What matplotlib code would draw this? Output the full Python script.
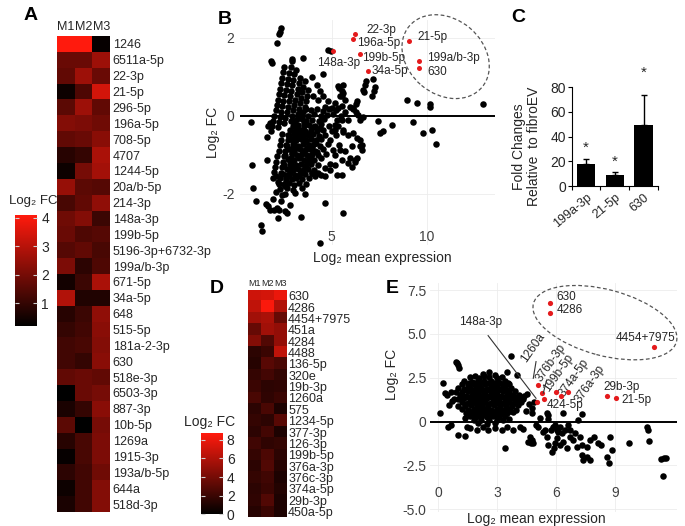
import numpy as np
import matplotlib
matplotlib.use('Agg')
import matplotlib.pyplot as plt
from matplotlib.colors import LinearSegmentedColormap, Normalize
from matplotlib.patches import Ellipse
import matplotlib.transforms as mtransforms
import matplotlib.cm as cm

plt.rcParams['font.family'] = ['Liberation Sans', 'DejaVu Sans']
plt.rcParams['axes.unicode_minus'] = False

# ---------------- data ----------------
a_cols = ['M1', 'M2', 'M3']
a_rows = ['1246', '6511a-5p', '22-3p', '21-5p', '296-5p', '196a-5p', '708-5p', '4707',
          '1244-5p', '20a/b-5p', '214-3p', '148a-3p', '199b-5p', '5196-3p+6732-3p',
          '199a/b-3p', '671-5p', '34a-5p', '648', '515-5p', '181a-2-3p', '630', '518e-3p',
          '6503-3p', '887-3p', '10b-5p', '1269a', '1915-3p', '193a/b-5p', '644a', '518d-3p']
a_vals = [[4.1, 4.1, 0.3], [1.8, 1.8, 2.6], [1.7, 2.6, 1.8], [0.4, 1.4, 3.4], [1.6, 2.6, 1.7],
          [2.2, 2.1, 1.9], [1.7, 1.8, 2.3], [0.8, 1.0, 2.8], [0.4, 2.0, 2.7], [2.5, 1.6, 1.5],
          [1.3, 1.7, 2.4], [1.9, 2.2, 1.1], [1.8, 1.4, 1.5], [1.5, 1.7, 1.3], [2.1, 0.9, 1.4],
          [0.5, 1.1, 2.8], [2.9, 0.7, 0.7], [0.8, 1.1, 2.4], [1.0, 1.2, 2.3], [1.2, 1.3, 2.2],
          [1.2, 1.0, 2.3], [1.7, 1.8, 1.7], [0.2, 1.8, 2.0], [0.6, 1.0, 2.3], [1.6, 0.2, 2.0],
          [0.8, 1.3, 2.1], [0.3, 1.3, 2.1], [0.9, 1.2, 1.9], [0.4, 1.2, 2.2], [0.6, 1.2, 2.2]]

d_rows = ['630', '4286', '4454+7975', '451a', '4284', '4488', '136-5p', '320e', '19b-3p',
          '1260a', '575', '1234-5p', '377-3p', '126-3p', '199b-5p', '376a-3p', '376c-3p',
          '374a-5p', '29b-3p', '450a-5p']
d_vals = [[7.0, 7.2, 8.0], [6.5, 8.5, 6.0], [5.5, 5.8, 3.5], [3.5, 5.5, 5.0], [4.5, 2.8, 5.0],
          [1.5, 2.0, 6.5], [1.3, 3.0, 2.5], [1.8, 2.3, 1.7], [2.0, 1.5, 1.6], [2.5, 1.6, 2.0],
          [1.5, 2.5, 1.0], [1.8, 1.5, 3.0], [1.5, 2.3, 1.0], [2.2, 1.6, 1.8], [1.8, 2.6, 1.5],
          [1.5, 2.8, 1.3], [1.8, 2.2, 1.0], [1.5, 2.0, 1.2], [1.6, 2.8, 1.0], [1.3, 2.0, 1.0]]

c_cats = ['199a-3p', '21-5p', '630']
c_vals = [17.8, 8.9, 49.2]
c_err = [4.2, 2.4, 24.6]
c_star = [31.0, 19.5, 92.0]

# Panel B: highlighted points
b_red_x = [6.23, 6.14, 5.09, 6.49, 6.93, 9.05, 9.61, 9.61]
b_red_y = [2.09, 1.97, 1.66, 1.57, 1.15, 1.92, 1.40, 1.23]
b_lab = ['22-3p', '196a-5p', '148a-3p', '199b-5p', '34a-5p', '21-5p', '199a/b-3p', '630']
b_lab_x = [6.81, 6.33, 4.23, 6.59, 7.12, 9.54, 10.02, 10.02]
b_lab_y = [2.20, 1.86, 1.35, 1.48, 1.15, 2.02, 1.48, 1.12]

b_streaks = [
    (1.80, -0.40), (1.86, -0.27), (1.92, -0.14), (1.98, 0.00), (2.04, 0.13), (2.10, 0.27), (2.16, 0.41),
    (2.21, 0.55), (2.27, 0.69), (2.33, 0.83), (2.39, 0.97), (2.45, 1.11), (2.51, 1.25),
    (2.15, -0.30), (2.21, -0.17), (2.27, -0.03), (2.33, 0.10), (2.39, 0.24), (2.45, 0.38), (2.51, 0.52),
    (2.57, 0.66), (2.63, 0.80), (2.69, 0.94), (2.76, 1.08), (2.83, 1.24), (2.90, 1.40),
    (2.50, -0.20), (2.56, -0.06), (2.62, 0.08), (2.68, 0.22), (2.74, 0.36), (2.80, 0.50), (2.86, 0.64),
    (2.92, 0.78), (2.98, 0.92), (3.04, 1.06), (3.10, 1.18),
    (2.85, -0.15), (2.91, -0.01), (2.97, 0.13), (3.03, 0.27), (3.09, 0.41), (3.15, 0.55), (3.21, 0.69),
    (3.27, 0.83), (3.33, 0.97),
    (3.15, -0.10), (3.21, 0.04), (3.27, 0.18), (3.33, 0.32), (3.39, 0.46), (3.45, 0.60), (3.51, 0.74),
    (3.57, 0.88),
    (3.45, -0.05), (3.51, 0.09), (3.57, 0.23), (3.63, 0.37), (3.69, 0.51), (3.75, 0.65),
    (1.90, -1.60), (1.96, -1.46), (2.02, -1.32), (2.08, -1.18), (2.14, -1.04), (2.20, -0.90),
    (2.26, -0.76), (2.32, -0.62), (2.38, -0.48),
    (2.20, -1.75), (2.26, -1.61), (2.32, -1.47), (2.38, -1.33), (2.44, -1.19), (2.50, -1.05),
    (2.56, -0.91), (2.62, -0.77), (2.68, -0.63), (2.74, -0.49),
    (2.55, -1.80), (2.61, -1.66), (2.67, -1.52), (2.73, -1.38), (2.79, -1.24), (2.85, -1.10),
    (2.91, -0.96), (2.97, -0.82), (3.03, -0.68), (3.09, -0.54), (3.15, -0.40),
]
b_core = [
    (3.62, 0.17), (3.91, 0.13), (4.22, 0.18), (4.55, 0.12), (4.88, 0.16), (5.21, 0.14),
    (3.31, 0.02), (3.74, -0.01), (4.06, 0.03), (4.41, -0.02), (4.76, 0.01), (5.07, 0.04), (5.48, -0.01),
    (3.02, -0.13), (3.44, -0.10), (3.66, -0.14), (3.97, -0.11), (4.31, -0.13), (4.62, -0.09), (5.29, -0.12),
    (2.94, -0.26), (3.21, -0.23), (3.52, -0.27), (3.79, -0.24), (4.12, -0.26), (4.46, -0.22), (4.84, -0.27),
    (5.16, -0.24),
    (2.81, -0.37), (3.06, -0.40), (3.36, -0.36), (3.61, -0.39), (3.89, -0.37), (4.21, -0.40), (4.52, -0.36),
    (5.02, -0.39), (5.58, -0.37),
    (2.69, -0.51), (3.01, -0.48), (3.26, -0.52), (3.49, -0.49), (3.76, -0.51), (4.02, -0.48), (4.31, -0.52),
    (4.66, -0.49), (5.24, -0.51),
    (2.86, -0.61), (3.11, -0.64), (3.39, -0.60), (3.66, -0.63), (3.91, -0.61), (4.16, -0.64), (4.46, -0.60),
    (4.91, -0.63),
    (2.61, -0.76), (2.96, -0.73), (3.21, -0.77), (3.49, -0.74), (3.81, -0.76), (4.06, -0.73), (4.36, -0.77),
    (4.79, -0.74), (5.41, -0.76),
    (2.76, -0.87), (3.04, -0.90), (3.31, -0.86), (3.59, -0.89), (3.86, -0.87), (4.11, -0.90), (4.56, -0.86),
    (5.09, -0.89),
    (2.56, -1.01), (2.89, -0.98), (3.16, -1.02), (3.44, -0.99), (3.71, -1.01), (3.96, -0.98), (4.29, -1.02),
    (4.71, -0.99),
    (2.71, -1.11), (3.01, -1.14), (3.26, -1.10), (3.54, -1.13), (3.81, -1.11), (4.06, -1.14), (4.44, -1.10),
    (2.51, -1.26), (2.86, -1.23), (3.11, -1.27), (3.39, -1.24), (3.66, -1.26), (3.91, -1.23), (4.26, -1.27),
    (4.89, -1.24),
    (2.66, -1.37), (2.94, -1.40), (3.21, -1.36), (3.51, -1.39), (3.76, -1.37), (4.09, -1.40),
    (2.46, -1.51), (2.81, -1.48), (3.06, -1.52), (3.31, -1.49), (3.61, -1.51), (3.94, -1.48), (4.41, -1.52),
    (2.61, -1.61), (2.91, -1.64), (3.14, -1.60), (3.46, -1.63), (3.79, -1.61),
    (2.49, -1.76), (2.76, -1.73), (3.01, -1.77), (3.29, -1.74), (3.66, -1.76),
    (2.66, -1.87), (2.96, -1.90), (3.41, -1.86),
    (2.56, -2.01), (3.09, -1.98), (3.61, -2.02),
    (2.15, -1.70), (2.30, -1.88), (2.05, -1.55), (2.38, -2.05),
    (3.17, -0.31), (3.47, -0.56), (3.72, -0.83), (3.33, -1.06), (3.58, -1.31), (3.87, -0.45),
    (4.18, -0.70), (3.93, -1.05), (3.25, -1.56), (2.82, -1.17), (3.05, -0.20), (4.37, -0.33),
    (3.35, -0.44), (3.63, -0.69), (3.97, -0.80), (3.12, -0.82), (3.48, -0.93), (3.73, -1.18),
    (3.02, -1.31), (3.38, -1.44), (2.75, -1.55), (3.55, -0.20), (4.00, -0.30), (4.25, -0.93),
]
b_scatter = [
    (2.31, 2.24), (2.28, 2.15), (2.24, 2.09), (2.10, 1.87), (1.79, 1.41), (1.84, 1.34), (2.93, 1.45),
    (3.51, 1.47), (3.95, 0.98), (4.82, 1.67), (4.96, 1.66), (4.56, 1.07),
    (5.35, 0.77), (5.39, 0.70), (5.61, 0.57), (5.53, 0.49), (6.31, 0.36), (6.26, 0.30), (6.14, 0.19),
    (6.63, 0.66), (6.70, 0.60), (6.81, 0.89), (6.75, 0.79), (7.16, 0.94), (7.28, 0.74), (7.23, 0.62),
    (7.11, 0.49), (8.95, 0.40), (9.47, 0.32), (10.17, 0.30), (10.17, 0.21), (12.98, 0.30),
    (7.45, -0.15), (8.16, -0.24), (7.54, -0.44), (7.72, -0.39), (9.30, -0.17), (9.82, -0.44),
    (10.26, -0.37), (10.49, -0.74), (6.63, -0.04),
    (0.74, -0.17), (0.79, -1.26), (0.88, -1.86), (1.00, -2.20), (1.26, -2.80), (1.31, -2.96),
    (1.58, -0.54), (1.66, -0.26), (1.75, -0.20), (1.61, -1.14),
    (1.54, -2.26), (1.66, -2.31), (1.75, -2.42), (1.98, -2.42), (2.10, -2.38), (2.16, -2.63), (2.23, -2.42),
    (2.54, -2.46), (2.63, -2.50), (2.80, -2.29), (3.37, -2.59), (1.90, -2.15), (2.35, -2.20), (2.05, -1.95),
    (4.65, -2.25), (4.38, -3.27), (5.61, -2.49), (4.65, -1.56), (5.26, -1.52), (5.52, -1.52), (5.88, -1.22),
    (6.05, -1.31), (6.25, -1.13), (6.31, -1.08), (6.50, -0.78), (6.58, -0.88),
    (5.17, 0.32), (5.35, 0.19), (5.52, 0.25), (5.70, 0.10), (5.96, 0.21), (6.14, 0.16), (6.26, 0.10),
    (6.40, 0.02), (6.49, -0.11), (5.88, -0.11), (5.52, -0.11), (5.35, -0.28), (5.17, -0.37), (5.61, -0.41),
    (5.88, -0.50), (6.14, -0.45), (6.31, -0.58), (6.49, -0.62), (6.58, -0.75), (6.05, -0.79), (5.70, -0.92),
    (5.44, -0.88), (5.17, -1.01), (5.52, -1.14), (5.96, -1.09), (6.23, -1.18), (5.17, -1.26), (4.91, -1.39),
    (4.65, -1.35), (4.30, -1.48), (4.12, -1.56), (3.95, -1.48),
    (4.21, 0.79), (4.39, 0.62), (4.56, 0.49), (4.30, 0.40), (4.82, 0.36), (4.03, 0.49), (4.65, 0.23),
    (5.00, 0.19), (5.61, 0.79), (5.52, 0.62), (5.44, 0.49), (5.70, 0.40),
]

# Panel E: highlighted points
e_red_x = [5.69, 5.69, 10.99, 5.09, 5.27, 5.38, 5.01, 6.00, 6.24, 6.59, 8.61, 9.05]
e_red_y = [6.74, 6.17, 4.24, 2.09, 1.62, 1.29, 1.10, 1.71, 1.48, 1.69, 1.46, 1.33]

e_core = [
    (2.3, 2.72), (2.9, 2.68), (2.6, 2.80),
    (1.6, 2.52), (2.1, 2.48), (2.6, 2.53), (3.0, 2.47), (1.85, 2.58), (2.35, 2.60), (3.25, 2.55),
    (1.3, 2.31), (1.7, 2.28), (2.0, 2.33), (2.35, 2.29), (2.7, 2.32), (3.05, 2.27), (3.4, 2.31),
    (1.2, 2.12), (1.5, 2.08), (1.8, 2.13), (2.1, 2.09), (2.4, 2.12), (2.7, 2.07), (3.0, 2.11), (3.3, 2.08),
    (3.6, 2.14),
    (1.0, 1.91), (1.3, 1.88), (1.6, 1.93), (1.9, 1.89), (2.2, 1.92), (2.5, 1.88), (2.8, 1.91), (3.1, 1.87),
    (3.4, 1.92), (3.7, 1.89),
    (0.9, 1.71), (1.2, 1.68), (1.5, 1.72), (1.8, 1.69), (2.1, 1.73), (2.4, 1.68), (2.7, 1.71), (3.0, 1.67),
    (3.3, 1.72), (3.6, 1.69), (3.9, 1.74),
    (1.1, 1.51), (1.4, 1.48), (1.7, 1.52), (2.0, 1.49), (2.3, 1.53), (2.6, 1.47), (2.9, 1.51), (3.2, 1.48),
    (3.5, 1.52), (3.8, 1.49), (4.1, 1.51),
    (0.8, 1.31), (1.0, 1.27), (1.3, 1.32), (1.6, 1.28), (1.9, 1.31), (2.2, 1.27), (2.5, 1.33), (2.8, 1.29),
    (3.1, 1.31), (3.4, 1.27), (3.7, 1.32), (4.0, 1.28), (4.3, 1.31),
    (1.2, 1.11), (1.5, 1.08), (1.8, 1.12), (2.1, 1.09), (2.4, 1.11), (2.7, 1.07), (3.0, 1.12), (3.3, 1.09),
    (3.6, 1.11), (3.9, 1.08), (4.2, 1.12),
    (1.0, 0.91), (1.35, 0.88), (1.65, 0.92), (1.95, 0.89), (2.25, 0.91), (2.55, 0.87), (2.85, 0.92),
    (3.15, 0.88), (3.45, 0.91), (3.75, 0.89), (4.05, 0.92),
    (1.2, 0.71), (1.5, 0.68), (1.8, 0.72), (2.1, 0.69), (2.4, 0.71), (2.7, 0.67), (3.0, 0.72), (3.3, 0.69),
    (3.6, 0.71), (3.95, 0.68),
    (1.4, 0.51), (1.7, 0.48), (2.0, 0.52), (2.3, 0.49), (2.6, 0.51), (2.9, 0.47), (3.2, 0.52), (3.5, 0.49),
    (3.8, 0.53),
    (1.6, 0.31), (1.9, 0.28), (2.2, 0.32), (2.5, 0.29), (2.8, 0.31), (3.1, 0.27), (3.4, 0.32),
    (1.8, 0.11), (2.2, 0.08), (2.6, 0.12), (3.0, 0.09), (3.3, 0.11), (1.35, 0.18), (3.6, 0.15),
    (2.0, -0.09), (2.5, -0.12), (2.9, -0.08),
    (3.9, 1.15), (4.05, 1.25), (4.2, 1.35), (4.35, 1.45), (4.5, 1.57),
    (1.45, 1.82), (1.75, 1.78), (2.05, 1.81), (2.35, 1.79), (2.65, 1.82), (2.95, 1.78), (3.25, 1.81),
    (3.55, 1.79), (1.25, 1.42), (1.55, 1.38), (1.85, 1.41), (2.15, 1.39), (2.45, 1.42), (2.75, 1.38),
    (3.05, 1.41), (3.35, 1.39), (3.65, 1.42), (3.95, 1.38), (1.35, 1.02), (1.65, 0.98), (1.95, 1.01),
    (2.25, 0.99), (2.55, 1.02), (2.85, 0.98), (3.15, 1.01), (3.45, 0.99), (3.75, 1.02), (1.55, 0.62),
    (1.85, 0.58), (2.15, 0.61), (2.45, 0.59), (2.75, 0.62), (3.05, 0.58), (3.35, 0.61), (3.65, 0.59),
    (1.55, 2.20), (1.85, 2.22), (2.15, 2.19), (2.55, 2.21), (2.85, 2.18), (3.15, 2.22), (1.75, 0.40),
    (2.05, 0.41), (2.35, 0.38), (2.65, 0.40), (2.95, 0.39), (3.25, 0.41),
]
e_scatter = [
    (0.90, 3.42), (0.97, 3.32), (1.02, 3.23), (1.07, 3.04), (0.26, 2.18), (0.09, 0.47), (0.34, 1.61),
    (0.43, 1.52), (0.63, 1.71), (0.51, -0.28), (0.63, -0.19), (1.02, -0.76), (1.36, -0.82), (1.44, -0.32),
    (3.70, 3.74), (3.48, 2.85), (4.03, 2.66), (3.57, 2.18), (3.40, -1.52), (4.16, -0.28), (4.30, -0.44),
    (4.67, -0.85), (4.59, -1.14), (4.70, -1.23), (4.76, 0.47), (5.52, 0.47), (5.60, 0.38), (5.60, 0.13),
    (6.37, 0.47), (6.71, -0.85), (7.34, 0.42), (9.73, -1.20),
    (4.76, -1.04), (4.84, -1.23), (4.98, -0.19), (5.09, -0.28), (5.32, -0.57), (5.43, -0.47), (5.52, -0.85),
    (5.60, -1.33), (5.72, -0.47), (5.82, -0.28), (5.94, -0.19), (6.03, -0.47), (6.11, -0.57), (6.20, -0.28),
    (6.28, -0.66), (6.03, -0.95), (5.94, -1.23), (5.89, -1.52), (5.77, -1.71), (6.20, -1.33), (6.37, -1.14),
    (6.45, -0.47), (6.54, -1.52), (6.71, -0.47), (6.96, -0.66), (7.22, -0.85), (7.30, -1.90), (7.39, -2.18),
    (7.56, -1.99), (7.73, -2.18), (6.88, -1.04), (7.05, -1.42), (7.30, -1.33), (7.56, -1.42), (7.73, -1.04),
    (7.93, -0.85), (8.15, -1.23), (8.27, -1.33), (8.58, -1.99), (8.75, -0.85), (8.83, -1.61), (6.62, -0.19),
    (5.18, 0.19), (7.13, 0.09), (8.71, -2.33),
    (10.61, -0.28), (10.70, -0.47), (10.75, -1.08), (11.37, -2.13), (11.51, -2.09), (11.58, -2.05),
    (11.43, -3.09),
    (4.60, 1.00), (4.80, 0.75), (4.45, 0.60), (4.90, 1.10), (0.70, 1.20), (0.55, 0.95),
    (1.61, -0.38), (1.95, -0.47), (2.29, -0.28), (2.55, -0.47), (2.89, -0.38), (3.23, -0.47), (3.48, -0.28),
    (3.82, -0.47),
]

# ---------------- figure ----------------
W, H = 685, 526
fig = plt.figure(figsize=(W / 100, H / 100), dpi=100)


def rect(l, t, r, b):
    return [l / W, 1 - b / H, (r - l) / W, (b - t) / H]


cmap = LinearSegmentedColormap.from_list('blackred', ['#000000', '#ff1a0d'])
TXT = '#262626'
DOT = 22

# ---- Panel A heatmap ----
axA = fig.add_axes(rect(57, 36, 110, 512))
axA.imshow(np.array(a_vals), cmap=cmap, vmin=0.2, vmax=4.1, aspect='auto', interpolation='nearest')
axA.set_xticks(range(len(a_cols)))
axA.set_xticklabels(a_cols)
axA.xaxis.tick_top()
axA.set_yticks(range(len(a_rows)))
axA.set_yticklabels(a_rows)
axA.yaxis.tick_right()
axA.tick_params(length=0, labelsize=9, pad=2, colors=TXT)
for s in axA.spines.values():
    s.set_visible(False)

caxA = fig.add_axes(rect(15, 215, 37, 326))
cbA = fig.colorbar(cm.ScalarMappable(norm=Normalize(0.2, 4.1), cmap=cmap), cax=caxA)
cbA.set_ticks([1, 2, 3, 4])
cbA.outline.set_visible(False)
caxA.tick_params(direction='in', length=3, color='#d0d0d0', left=True, right=True,
                 labelsize=10, pad=3, labelcolor=TXT)
fig.text(33 / W, 1 - 201 / H, 'Log₂ FC', ha='center', va='center', fontsize=9.5, color=TXT)

# ---- Panel B scatter ----
axB = fig.add_axes(rect(240, 20, 495, 245))
for s in axB.spines.values():
    s.set_visible(False)
axB.grid(True, color='#ececec', lw=0.6)
axB.set_axisbelow(True)
axB.axhline(0, color='black', lw=1.4, zorder=2)
bpts = np.array(b_streaks + b_core + b_scatter)
axB.scatter(bpts[:, 0], bpts[:, 1], s=DOT, c='black', lw=0, zorder=3, clip_on=False)
axB.scatter(b_red_x, b_red_y, s=13, c='#e41a1c', lw=0, zorder=4)
for t, x, y in zip(b_lab, b_lab_x, b_lab_y):
    axB.text(x, y, t, fontsize=8.5, ha='left', va='center', color=TXT, zorder=5)
eB = Ellipse((0, 0), width=95, height=75, angle=-40, fill=False, ls=(0, (3, 2)), lw=0.9,
             edgecolor='#555555', clip_on=False,
             transform=mtransforms.Affine2D() + mtransforms.ScaledTranslation(11.0, 1.51, axB.transData))
axB.add_patch(eB)
axB.set_xlim(0.17, 13.6)
axB.set_ylim(-3.32, 2.45)
axB.set_xticks([5, 10])
axB.set_yticks([-2, 0, 2])
axB.set_yticklabels(['-2', '0', '2'])
axB.tick_params(length=0, labelsize=10, labelcolor='#404040')
axB.tick_params(axis='x', pad=-11)
axB.tick_params(axis='y', pad=4)
axB.set_xlabel('Log₂ mean expression', fontsize=10, color=TXT)
axB.xaxis.set_label_coords(0.56, -0.027)
axB.set_ylabel('Log₂ FC', fontsize=10, color=TXT)
axB.yaxis.set_label_coords(-0.078, 0.5)

# ---- Panel C bars ----
axC = fig.add_axes(rect(571.7, 87.3, 658, 186))
xc = np.arange(len(c_cats))
axC.bar(xc, c_vals, width=0.65, color='black', zorder=2)
axC.errorbar(xc, c_vals, yerr=[np.zeros(len(c_vals)), c_err], fmt='none', ecolor='black',
             elinewidth=1, capsize=2.5, capthick=1, zorder=3)
for i, ys in enumerate(c_star):
    axC.text(xc[i], ys, '*', ha='center', va='center', fontsize=11, color=TXT, clip_on=False)
axC.set_xlim(-0.5, 2.5)
axC.set_ylim(0, 80)
axC.spines['top'].set_visible(False)
axC.spines['right'].set_visible(False)
axC.set_yticks([0, 20, 40, 60, 80])
axC.set_xticks([-0.5, 0.5, 1.5, 2.5])
axC.set_xticklabels([])
axC.set_xticks(xc, minor=True)
axC.set_xticklabels(c_cats, minor=True, rotation=40, ha='right', rotation_mode='anchor', fontsize=9,
                    color=TXT)
axC.tick_params(axis='x', which='minor', length=0, pad=4)
axC.tick_params(axis='x', which='major', length=3, direction='out')
axC.tick_params(axis='y', length=3, labelsize=10, pad=1, labelcolor=TXT)
axC.set_ylabel('Fold Changes\nRelative  to fibroEV', fontsize=10, color=TXT, linespacing=1.1)
axC.yaxis.set_label_coords(-0.36, 0.4)

# ---- Panel D heatmap ----
axD = fig.add_axes(rect(248.3, 290, 286.7, 517.3))
axD.imshow(np.array(d_vals), cmap=cmap, vmin=0, vmax=8.7, aspect='auto', interpolation='nearest')
axD.set_xticks(range(3))
axD.set_xticklabels(a_cols)
axD.xaxis.tick_top()
axD.set_yticks(range(len(d_rows)))
axD.set_yticklabels(d_rows)
axD.yaxis.tick_right()
axD.tick_params(length=0, labelsize=9, pad=1, colors=TXT)
axD.tick_params(axis='x', labelsize=6.5, pad=1.5)
for s in axD.spines.values():
    s.set_visible(False)

caxD = fig.add_axes(rect(200.7, 433.3, 222.7, 514.3))
cbD = fig.colorbar(cm.ScalarMappable(norm=Normalize(0, 8.7), cmap=cmap), cax=caxD)
cbD.set_ticks([0, 2, 4, 6, 8])
cbD.outline.set_visible(False)
caxD.tick_params(direction='in', length=3, color='#d0d0d0', left=True, right=True,
                 labelsize=10, pad=3, labelcolor=TXT)
fig.text(210 / W, 1 - 422 / H, 'Log₂ FC', ha='center', va='center', fontsize=10, color=TXT)

# ---- Panel E scatter ----
axE = fig.add_axes(rect(430, 283, 677, 512))
for s in axE.spines.values():
    s.set_visible(False)
axE.grid(True, color='#ececec', lw=0.6)
axE.set_axisbelow(True)
axE.axhline(0, color='black', lw=1.4, zorder=2)
epts = np.array(e_core + e_scatter)
axE.scatter(epts[:, 0], epts[:, 1], s=DOT, c='black', lw=0, zorder=3)
axE.scatter(e_red_x, e_red_y, s=14, c='#e41a1c', lw=0, zorder=4)
lc = '#333333'
axE.plot([2.54, 4.98], [4.90, 1.33], color=lc, lw=0.8, zorder=4)
axE.plot([4.98, 4.84], [3.42, 2.47], color=lc, lw=0.8, zorder=4)
axE.plot([5.52, 5.35], [2.37, 1.62], color=lc, lw=0.8, zorder=4)
axE.text(2.17, 5.69, '148a-3p', fontsize=8.5, ha='center', va='center', color=TXT)
axE.text(6.03, 7.12, '630', fontsize=8.5, ha='left', va='center', color=TXT)
axE.text(6.03, 6.36, '4286', fontsize=8.5, ha='left', va='center', color=TXT)
axE.text(12.06, 4.75, '4454+7975', fontsize=8.5, ha='right', va='center', color=TXT)
axE.text(5.52, 0.95, '424-5p', fontsize=8.5, ha='left', va='center', color=TXT)
axE.text(8.40, 1.99, '29b-3p', fontsize=8.5, ha='left', va='center', color=TXT)
axE.text(9.35, 1.24, '21-5p', fontsize=8.5, ha='left', va='center', color=TXT)
for t, x, y in [('1260a', 4.82, 4.20), ('376b-3p', 5.74, 3.34), ('199b-5p', 6.10, 2.77),
                ('374a-5p', 6.91, 2.49), ('376a-3p', 7.73, 2.15)]:
    axE.text(x, y, t, fontsize=8.5, ha='center', va='center', rotation=55, rotation_mode='anchor', color=TXT)
eE = Ellipse((0, 0), width=148, height=66, angle=-15, fill=False, ls=(0, (3, 2)), lw=0.9,
             edgecolor='#555555', clip_on=False,
             transform=mtransforms.Affine2D() + mtransforms.ScaledTranslation(8.49, 5.64, axE.transData))
axE.add_patch(eE)
axE.set_xlim(-0.42, 12.16)
axE.set_ylim(-5.15, 7.9)
axE.set_xticks([0, 3, 6, 9])
axE.set_yticks([-5, -2.5, 0, 2.5, 5, 7.5])
axE.set_yticklabels(['-5.0', '-2.5', '0', '2.5', '5.0', '7.5'])
axE.tick_params(length=0, labelsize=10, labelcolor='#404040')
axE.tick_params(axis='x', pad=-19)
axE.tick_params(axis='y', pad=2.5)
axE.set_xlabel('Log₂ mean expression', fontsize=10, color=TXT)
axE.xaxis.set_label_coords(0.43, 0.0)
axE.set_ylabel('Log₂ FC', fontsize=10, color=TXT)
axE.yaxis.set_label_coords(-0.125, 0.6)

# ---- panel letters ----
for t, x, y in [('A', 30.5, 16), ('B', 225, 19), ('C', 518, 18), ('D', 216.5, 288.5), ('E', 392.5, 288.5)]:
    fig.text(x / W, 1 - y / H, t, fontsize=14, fontweight='bold', ha='center', va='center')

fig.savefig('out.png', dpi=100)
